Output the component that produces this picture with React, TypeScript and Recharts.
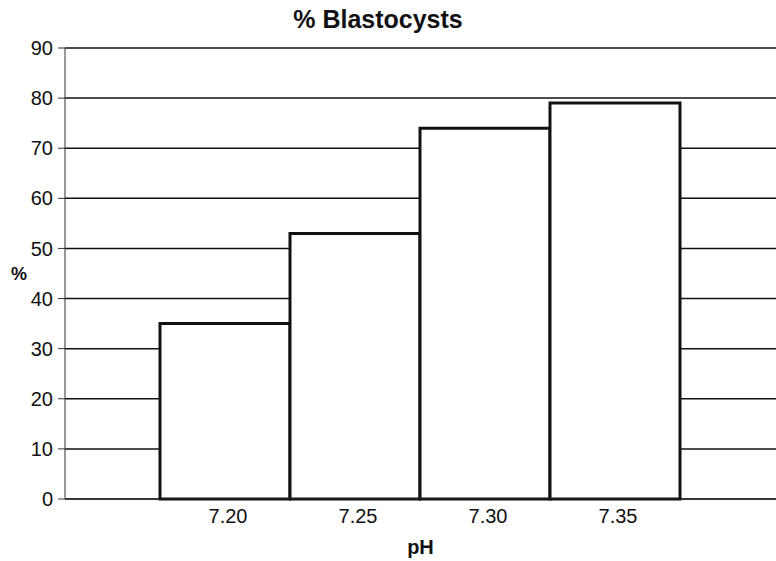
import { BarChart, Bar, XAxis, YAxis, CartesianGrid, Label } from "recharts";

const phLevels = ["7.20", "7.25", "7.30", "7.35"];
const blastocystPct = [35, 53, 74, 79];
const yTicks = [0, 10, 20, 30, 40, 50, 60, 70, 80, 90];

const data = phLevels.map((ph, i) => ({ ph, value: blastocystPct[i] }));

const FONT = '"Liberation Sans", Arial, Helvetica, sans-serif';

export default function App() {
  return (
    <div style={{ position: "absolute", left: 0, top: 0, width: 776, height: 561, background: "#fff", fontFamily: FONT }}>
      <div
        style={{
          position: "absolute",
          top: 5,
          left: 0,
          width: 756,
          textAlign: "center",
          fontSize: 25,
          lineHeight: "28px",
          fontWeight: "bold",
          color: "#111",
        }}
      >
        % Blastocysts
      </div>
      <BarChart
        width={776}
        height={561}
        data={data}
        margin={{ top: 48, right: 0, left: 0, bottom: 0 }}
        barCategoryGap={0}
      >
        <CartesianGrid vertical={false} stroke="#111" strokeWidth={1.5} strokeOpacity={1} />
        <XAxis
          dataKey="ph"
          height={62}
          padding={{ left: 95, right: 96 }}
          tickLine={false}
          tickSize={0}
          tickMargin={10}
          axisLine={{ stroke: "#222", strokeWidth: 1 }}
          tick={{ fontSize: 20, fill: "#111", fontFamily: FONT, dx: 3 }}
        >
          <Label
            value="pH"
            position="insideBottom"
            offset={7}
            style={{ fontSize: 20, fontWeight: "bold", fill: "#111", fontFamily: FONT }}
          />
        </XAxis>
        <YAxis
          width={65}
          domain={[0, 90]}
          ticks={yTicks}
          interval={0}
          tickSize={7}
          tickMargin={5}
          axisLine={{ stroke: "#333", strokeWidth: 1 }}
          tickLine={{ stroke: "#333", strokeWidth: 1 }}
          tick={{ fontSize: 20, fill: "#111", fontFamily: FONT }}
        >
          <Label
            value="%"
            position="insideLeft"
            offset={11}
            style={{ fontSize: 18, fontWeight: "bold", fill: "#111", fontFamily: FONT, textAnchor: "start" }}
          />
        </YAxis>
        <Bar dataKey="value" fill="#fff" stroke="#111" strokeWidth={3} isAnimationActive={false} />
      </BarChart>
    </div>
  );
}
